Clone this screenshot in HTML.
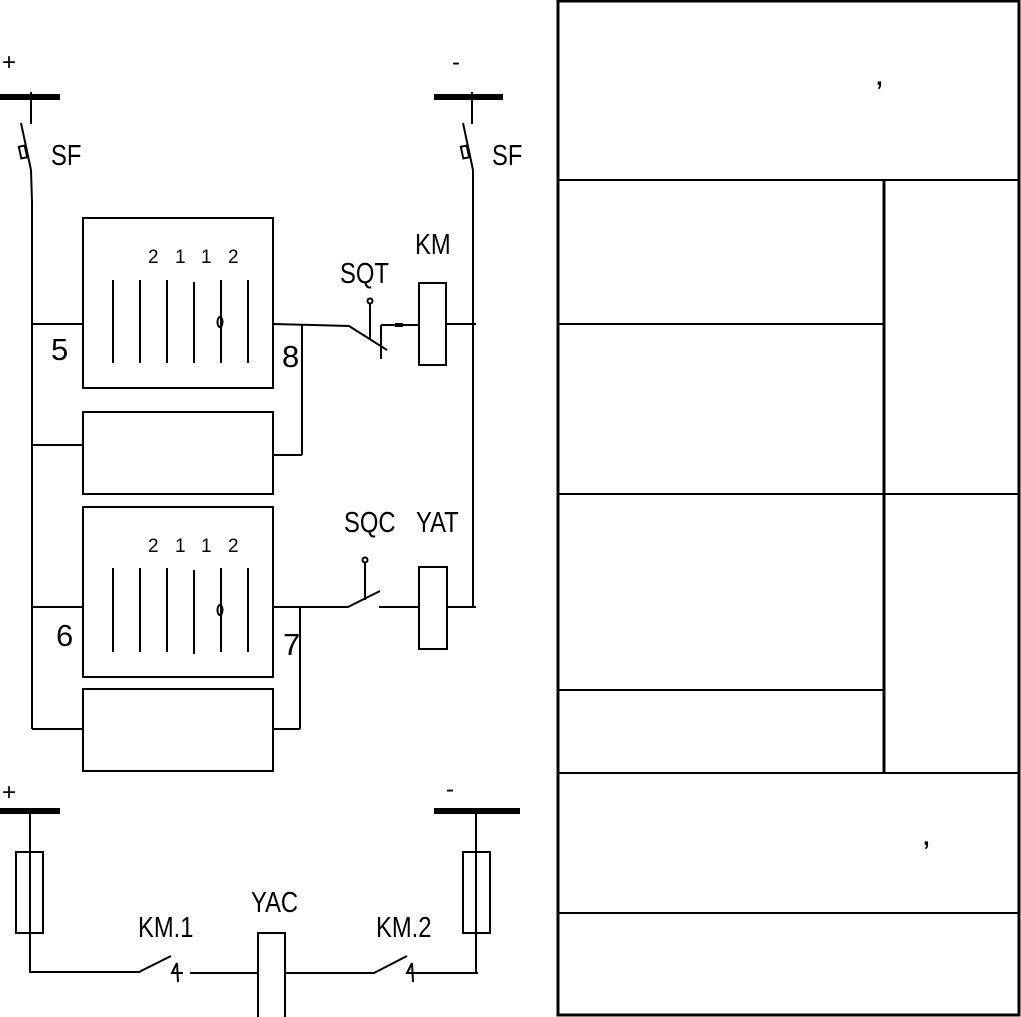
<!DOCTYPE html>
<html><head><meta charset="utf-8"><style>
html,body{margin:0;padding:0;background:#fff;}
svg{display:block;}
text{font-family:"Liberation Sans",sans-serif;fill:#000;}
</style></head><body>
<svg width="1021" height="1017" viewBox="0 0 1021 1017" xmlns="http://www.w3.org/2000/svg">
<g stroke="#000" stroke-width="2" fill="none">
<line x1="0" y1="97" x2="60" y2="97" stroke-width="6"/>
<line x1="434" y1="97" x2="503" y2="97" stroke-width="6"/>
<line x1="31" y1="92" x2="31" y2="124"/>
<line x1="472" y1="92" x2="472" y2="124"/>
<line x1="21" y1="123" x2="31" y2="170"/>
<rect x="20" y="146" width="6" height="12" transform="rotate(-12 23 152)"/>
<line x1="31" y1="170" x2="32" y2="202"/>
<line x1="463" y1="123" x2="473" y2="170"/>
<rect x="462" y="146" width="6" height="12" transform="rotate(-12 465 152)"/>
<line x1="473" y1="170" x2="473" y2="200"/>
<line x1="32" y1="202" x2="32" y2="729"/>
<line x1="473" y1="200" x2="473" y2="607"/>
<rect x="83" y="218" width="190" height="170"/>
<line x1="113" y1="280" x2="113" y2="363"/>
<line x1="140" y1="280" x2="140" y2="363"/>
<line x1="167" y1="280" x2="167" y2="363"/>
<line x1="194" y1="282" x2="194" y2="363"/>
<line x1="221" y1="280" x2="221" y2="363"/>
<line x1="248" y1="280" x2="248" y2="363"/>
<ellipse cx="220" cy="322" rx="2.5" ry="5"/>
<line x1="32" y1="324" x2="83" y2="324"/>
<polyline points="273,324 313,325 349,326 387,350"/>
<line x1="302" y1="324" x2="302" y2="455"/>
<line x1="273" y1="455" x2="302" y2="455"/>
<line x1="381" y1="325" x2="381" y2="359"/>
<line x1="381" y1="325" x2="419" y2="325"/>
<line x1="395" y1="325" x2="403" y2="325" stroke-width="4"/>
<circle cx="370" cy="301" r="2.5"/>
<line x1="370" y1="304" x2="370" y2="340"/>
<rect x="419" y="283" width="27" height="82"/>
<line x1="446" y1="324" x2="476" y2="324"/>
<rect x="83" y="412" width="190" height="82"/>
<line x1="32" y1="445" x2="83" y2="445"/>
<rect x="83" y="507" width="190" height="170"/>
<line x1="113" y1="568" x2="113" y2="652"/>
<line x1="140" y1="568" x2="140" y2="652"/>
<line x1="167" y1="568" x2="167" y2="652"/>
<line x1="194" y1="570" x2="194" y2="654"/>
<line x1="221" y1="568" x2="221" y2="652"/>
<line x1="248" y1="568" x2="248" y2="652"/>
<ellipse cx="220" cy="610" rx="2.5" ry="5"/>
<line x1="32" y1="607" x2="83" y2="607"/>
<polyline points="273,607 348,607 380,591"/>
<line x1="300" y1="607" x2="300" y2="729"/>
<line x1="273" y1="729" x2="300" y2="729"/>
<circle cx="365" cy="560" r="2.5"/>
<line x1="365" y1="563" x2="365" y2="600"/>
<line x1="379" y1="607" x2="419" y2="607"/>
<rect x="419" y="567" width="28" height="82"/>
<line x1="447" y1="607" x2="476" y2="607"/>
<rect x="83" y="689" width="190" height="82"/>
<line x1="32" y1="729" x2="83" y2="729"/>
<line x1="0" y1="811" x2="60" y2="811" stroke-width="6"/>
<line x1="434" y1="811" x2="520" y2="811" stroke-width="6"/>
<line x1="30" y1="811" x2="30" y2="973"/>
<rect x="16" y="852" width="27" height="81"/>
<line x1="476" y1="811" x2="476" y2="973"/>
<rect x="463" y="852" width="27" height="81"/>
<polyline points="30,972 139,972 171,956"/>
<path d="M177,963 L172,973 L183,973 M177,963 L178,982"/>
<line x1="190" y1="973" x2="258" y2="973"/>
<rect x="258" y="933" width="27" height="90"/>
<line x1="285" y1="973" x2="353" y2="973"/>
<polyline points="353,973 374,973 407,956"/>
<path d="M412,963 L407,973 L418,973 M412,963 L413,982"/>
<line x1="416" y1="973" x2="478" y2="973"/>
<rect x="558" y="1" width="461" height="1014" stroke-width="3"/>
<line x1="558" y1="180" x2="1019" y2="180"/>
<line x1="558" y1="324" x2="884" y2="324"/>
<line x1="558" y1="494" x2="1019" y2="494"/>
<line x1="558" y1="690" x2="884" y2="690"/>
<line x1="558" y1="773" x2="1019" y2="773"/>
<line x1="558" y1="913" x2="1019" y2="913"/>
<line x1="884" y1="180" x2="884" y2="773" stroke-width="3"/>
</g>
<g font-size="24">
<text x="2" y="70">+</text>
<text x="452" y="70">-</text>
<text x="2" y="800">+</text>
<text x="446" y="797">-</text>
</g>
<g font-size="29">
<text x="51" y="165" transform="translate(51 0) scale(0.82 1) translate(-51 0)">SF</text>
<text x="492" y="165" transform="translate(492 0) scale(0.82 1) translate(-492 0)">SF</text>
<text x="340" y="283" transform="translate(340 0) scale(0.82 1) translate(-340 0)">SQT</text>
<text x="415" y="254" transform="translate(415 0) scale(0.82 1) translate(-415 0)">KM</text>
<text x="344" y="532" transform="translate(344 0) scale(0.82 1) translate(-344 0)">SQC</text>
<text x="416" y="532" transform="translate(416 0) scale(0.82 1) translate(-416 0)">YAT</text>
<text x="251" y="912" transform="translate(251 0) scale(0.82 1) translate(-251 0)">YAC</text>
<text x="138" y="937" transform="translate(138 0) scale(0.82 1) translate(-138 0)">KM.1</text>
<text x="376" y="937" transform="translate(376 0) scale(0.82 1) translate(-376 0)">KM.2</text>
</g>
<g font-size="19">
<text x="148" y="263">2</text><text x="175" y="263">1</text><text x="201" y="263">1</text><text x="228" y="263">2</text>
<text x="148" y="552">2</text><text x="175" y="552">1</text><text x="201" y="552">1</text><text x="228" y="552">2</text>
</g>
<g font-size="31">
<text x="51" y="360">5</text>
<text x="282" y="367">8</text>
<text x="56" y="646">6</text>
<text x="283" y="655">7</text>
</g>
<g font-size="24" font-weight="bold">
<text x="876" y="85">,</text>
<text x="923" y="845">,</text>
</g>
</svg>
</body></html>
